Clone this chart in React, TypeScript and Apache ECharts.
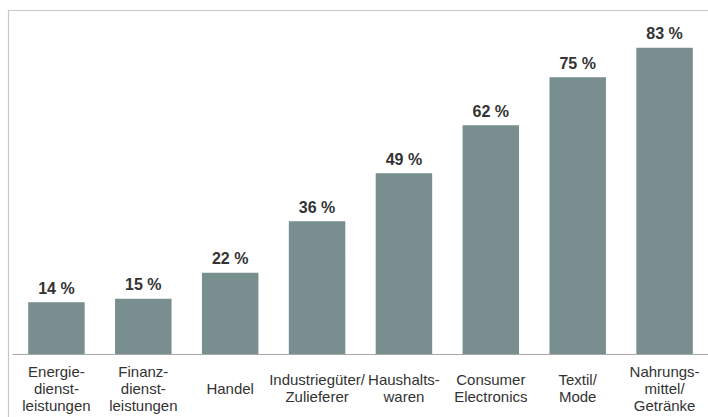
import React, { useEffect, useRef } from "react";
import * as echarts from "echarts";

const categories = [
  "Energie-\ndienst-\nleistungen",
  "Finanz-\ndienst-\nleistungen",
  "Handel",
  "Industriegüter/\nZulieferer",
  "Haushalts-\nwaren",
  "Consumer\nElectronics",
  "Textil/\nMode",
  "Nahrungs-\nmittel/\nGetränke",
];
const values = [14, 15, 22, 36, 49, 62, 75, 83];

export default function App() {
  const ref = useRef<HTMLDivElement>(null);
  useEffect(() => {
    if (!ref.current) return;
    const chart = echarts.init(ref.current, null, { renderer: "svg" });
    chart.setOption({
      animation: false,
      backgroundColor: "#ffffff",
      graphic: [
        { type: "line", shape: { x1: 8, y1: 10.5, x2: 708, y2: 10.5 }, style: { stroke: "#c8c8c8", lineWidth: 1.2 } },
        { type: "line", shape: { x1: 8.5, y1: 10, x2: 8.5, y2: 417 }, style: { stroke: "#c8c8c8", lineWidth: 1.2 } },
      ],
      grid: { left: 13, right: -5, top: 22, bottom: 63 },
      xAxis: {
        type: "category",
        data: categories,
        axisLine: { lineStyle: { color: "#a8a8a8", width: 1 } },
        axisTick: { show: false },
        axisLabel: {
          interval: 0,
          margin: 34,
          verticalAlign: "middle",
          fontFamily: "Liberation Sans, Arial, sans-serif",
          fontSize: 15,
          lineHeight: 17,
          color: "#333333",
        },
      },
      yAxis: {
        type: "value",
        min: 0,
        max: 90,
        show: false,
        splitLine: { show: false },
      },
      series: [
        {
          type: "bar",
          data: values,
          barWidth: "65%",
          itemStyle: { color: "#798e8e" },
          label: {
            show: true,
            position: "top",
            distance: 6,
            formatter: "{c} %",
            fontFamily: "Liberation Sans, Arial, sans-serif",
            fontSize: 16,
            fontWeight: "bold",
            color: "#333333",
          },
        },
      ],
    });
    return () => chart.dispose();
  }, []);
  return (
    <div
      ref={ref}
      style={{ position: "fixed", left: 0, top: 0, width: 708, height: 417 }}
    />
  );
}
